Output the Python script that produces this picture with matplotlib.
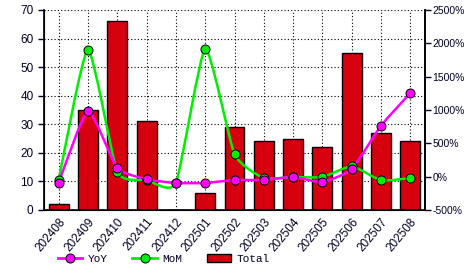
import matplotlib
matplotlib.use("Agg")
import matplotlib.pyplot as plt
from matplotlib.path import Path
from matplotlib.patches import PathPatch
from matplotlib.lines import Line2D
from matplotlib.patches import Patch

months = ["202408", "202409", "202410", "202411", "202412", "202501", "202502",
          "202503", "202504", "202505", "202506", "202507", "202508"]
total = [2, 35, 66, 31, 0, 6, 29, 24, 25, 22, 55, 27, 24]
yoy = [-90, 980, 130, -40, -95, -95, -50, -50, -5, -80, 115, 765, 1255]
mom = [-50, 1905, 75, -50, -95, 1915, 340, -20, -5, -5, 155, -55, -20]

left_ticks = [0, 10, 20, 30, 40, 50, 60, 70]
right_ticks = [-500, 0, 500, 1000, 1500, 2000, 2500]

BAR = "#D7000F"
MAG = "#FF00FF"
GRN = "#00EE00"
TXT = "#000022"
FONT = "Liberation Sans"


def smooth_path(xs, ys, k=0.09):
    pts = list(zip(xs, ys))
    n = len(pts)
    verts = [pts[0]]
    codes = [Path.MOVETO]
    for i in range(n - 1):
        p0 = pts[i - 1] if i > 0 else pts[i]
        p1 = pts[i]
        p2 = pts[i + 1]
        p3 = pts[i + 2] if i + 2 < n else pts[i + 1]
        c1 = (p1[0] + (p2[0] - p0[0]) * k, p1[1] + (p2[1] - p0[1]) * k)
        c2 = (p2[0] - (p3[0] - p1[0]) * k, p2[1] - (p3[1] - p1[1]) * k)
        verts += [c1, c2, p2]
        codes += [Path.CURVE4] * 3
    return Path(verts, codes)


fig = plt.figure(figsize=(4.66, 2.72), dpi=100)
ax = fig.add_axes([44 / 466, 1 - 210 / 272, (425 - 44) / 466, 200 / 272])
x = list(range(len(months)))

ax.bar(x, total, width=0.68, color=BAR, edgecolor="black", linewidth=1, zorder=2)
ax.set_xlim(-0.5, len(months) - 0.5)
ax.set_ylim(0, 70)
ax.set_yticks(left_ticks)
ax.set_xticks(x)
ax.set_xticklabels(months, rotation=50, ha="right", va="top", rotation_mode="anchor",
                   family=FONT, fontsize=8.5)
ax.set_yticklabels([str(v) for v in left_ticks], family=FONT, fontsize=8.5)
ax.grid(True, color="black", linestyle=(0, (1, 2)), linewidth=0.8, zorder=1)
ax.set_axisbelow(True)
ax.spines["top"].set_visible(False)
ax.tick_params(axis="both", colors=TXT, length=4, width=1)
ax.tick_params(axis="x", length=0, pad=4)
for s in ["left", "bottom", "right"]:
    ax.spines[s].set_linewidth(1.2)

ax2 = ax.twinx()
ax2.set_ylim(-500, 2500)
ax2.set_yticks(right_ticks)
ax2.set_yticklabels([f"{v}%" for v in right_ticks], family=FONT, fontsize=7.5)
ax2.tick_params(axis="y", colors=TXT, length=4, width=1, pad=1.5)
ax2.spines["top"].set_visible(False)
ax2.spines["right"].set_linewidth(1.2)

for vals, col in [(mom, GRN), (yoy, MAG)]:
    pp = PathPatch(smooth_path(x, vals), facecolor="none", edgecolor=col,
                   linewidth=1.8, zorder=3)
    ax2.add_patch(pp)
    ax2.plot(x, vals, linestyle="none", marker="o", markersize=6.5,
             markerfacecolor=col, markeredgecolor="black", markeredgewidth=0.7,
             zorder=4)

handles = [
    Line2D([], [], color=MAG, linewidth=2, marker="o", markersize=6.5,
           markerfacecolor=MAG, markeredgecolor="black", markeredgewidth=0.7),
    Line2D([], [], color=GRN, linewidth=2, marker="o", markersize=6.5,
           markerfacecolor=GRN, markeredgecolor="black", markeredgewidth=0.7),
    Patch(facecolor=BAR, edgecolor="black", linewidth=1),
]
fig.legend(handles, ["YoY", "MoM", "Total"], loc="center left",
           bbox_to_anchor=(48 / 466, 1 - 259 / 272), ncol=3, frameon=False,
           prop={"family": "Liberation Mono", "size": 8}, handlelength=2.2,
           handletextpad=0.5, columnspacing=2.2, labelcolor=TXT)

fig.savefig("out.png", dpi=100)
